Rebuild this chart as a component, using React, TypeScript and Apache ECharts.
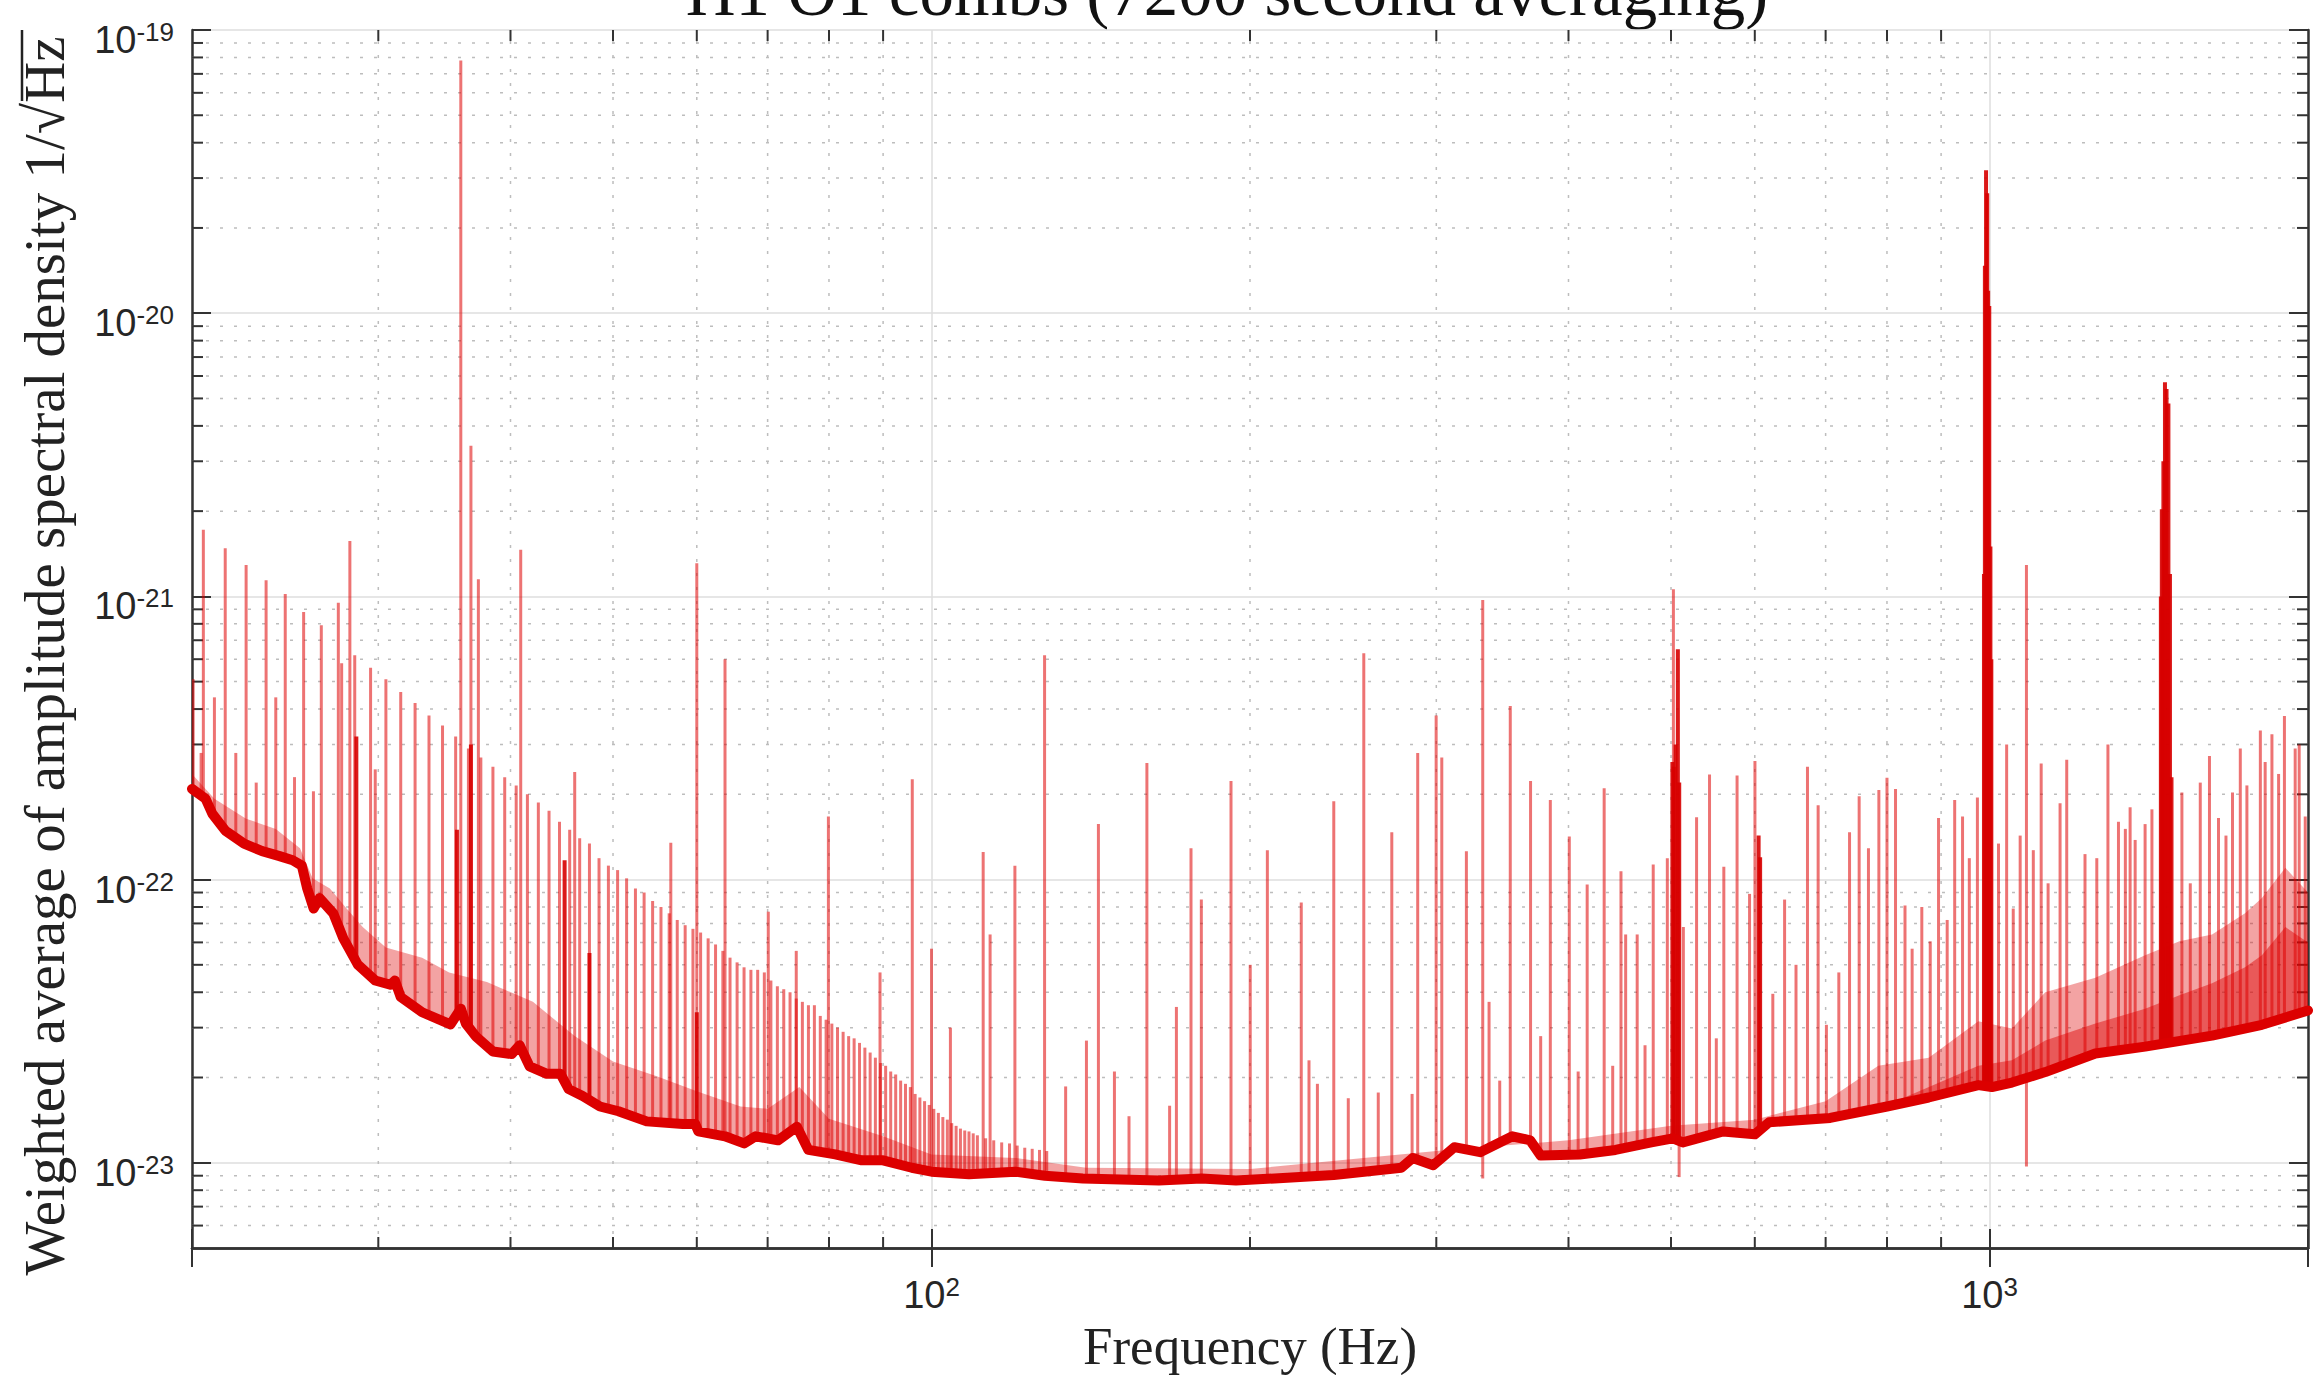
import React, { useEffect, useRef } from 'react';
import * as echarts from 'echarts';

const WIDTH = 2313;
const HEIGHT = 1375;

const TITLE = 'H1 O1 combs (7200 second averaging)';
const X_TITLE = 'Frequency (Hz)';
const Y_TITLE = 'Weighted average of amplitude spectral density 1/\u221AHz';

const X_MIN = 20;
const X_MAX = 2000;
const Y_MIN = 5e-24;
const Y_MAX = 1e-19;

// Labelled decades
const X_DECADES = [100, 1000];
const Y_DECADES = [1e-23, 1e-22, 1e-21, 1e-20, 1e-19];

// Minor grid positions (2..9 x decade)
const MINOR_X = [30, 40, 50, 60, 70, 80, 90, 200, 300, 400, 500, 600, 700, 800, 900];
const MINOR_Y = [
  6e-24, 7e-24, 8e-24, 9e-24,
  2e-23, 3e-23, 4e-23, 5e-23, 6e-23, 7e-23, 8e-23, 9e-23,
  2e-22, 3e-22, 4e-22, 5e-22, 6e-22, 7e-22, 8e-22, 9e-22,
  2e-21, 3e-21, 4e-21, 5e-21, 6e-21, 7e-21, 8e-21, 9e-21,
  2e-20, 3e-20, 4e-20, 5e-20, 6e-20, 7e-20, 8e-20, 9e-20,
];

// Noise floor of the weighted ASD: [Hz, 1/sqrt(Hz)]
const FLOOR: [number, number][] = [
  [20, 2.09e-22], [20.6, 1.93e-22], [20.9, 1.71e-22], [21.5, 1.49e-22], [22.4, 1.34e-22],
  [23.3, 1.26e-22], [24.2, 1.21e-22], [24.9, 1.17e-22], [25.4, 1.12e-22], [25.7, 9.3e-23],
  [26.06, 7.9e-23], [26.4, 8.6e-23], [27.2, 7.6e-23], [27.8, 6.2e-23], [28.7, 5.0e-23],
  [29.8, 4.4e-23], [30.8, 4.25e-23], [31.1, 4.4e-23], [31.5, 3.85e-23], [33.0, 3.4e-23],
  [35.1, 3.08e-23], [35.9, 3.5e-23], [36.3, 3.1e-23], [37.1, 2.79e-23], [38.5, 2.47e-23],
  [40.1, 2.42e-23], [40.8, 2.6e-23], [41.7, 2.19e-23], [43.3, 2.06e-23], [44.6, 2.06e-23],
  [45.4, 1.82e-23], [46.8, 1.72e-23], [48.6, 1.58e-23], [50.6, 1.52e-23], [53.8, 1.4e-23],
  [58.2, 1.37e-23], [59.8, 1.37e-23], [60.2, 1.29e-23], [63.8, 1.24e-23], [66.5, 1.17e-23],
  [68.2, 1.24e-23], [71.6, 1.2e-23], [74.6, 1.34e-23], [76.5, 1.11e-23], [81.1, 1.07e-23],
  [85.9, 1.02e-23], [90, 1.02e-23], [95.8, 9.6e-24], [100, 9.3e-24], [108.5, 9.1e-24],
  [120, 9.3e-24], [128, 9.0e-24], [139, 8.8e-24], [164, 8.65e-24], [180, 8.8e-24],
  [194, 8.65e-24], [211, 8.8e-24], [240, 9.05e-24], [278, 9.6e-24], [285, 1.04e-23],
  [298, 9.8e-24], [312, 1.135e-23], [330, 1.09e-23], [354, 1.24e-23], [368, 1.2e-23],
  [376.5, 1.06e-23], [410, 1.07e-23], [443, 1.11e-23], [479, 1.18e-23], [502, 1.22e-23],
  [513, 1.18e-23], [560, 1.29e-23], [600, 1.26e-23], [619, 1.39e-23], [707, 1.44e-23],
  [800, 1.58e-23], [876, 1.7e-23], [976, 1.88e-23], [1005, 1.85e-23], [1050, 1.92e-23],
  [1129, 2.09e-23], [1259, 2.43e-23], [1403, 2.57e-23], [1623, 2.81e-23], [1809, 3.07e-23],
  [2000, 3.45e-23],
];

// Upper edge of the dense low-level line forest above the floor
const GRASS_TOP: [number, number][] = [
  [20, 2.36e-22], [21, 1.93e-22], [22.5, 1.64e-22], [24, 1.51e-22], [25.3, 1.29e-22],
  [26, 1.01e-22], [27, 9.3e-23], [28, 7.9e-23], [29, 6.8e-23], [30.5, 5.75e-23],
  [33, 5.3e-23], [35, 4.7e-23], [38, 4.35e-23], [42, 3.7e-23], [46, 2.8e-23],
  [50, 2.28e-23], [55, 2.02e-23], [60, 1.79e-23], [66, 1.58e-23], [70, 1.55e-23],
  [75, 1.85e-23], [80, 1.43e-23], [90, 1.24e-23], [100, 1.07e-23], [120, 1.04e-23],
  [140, 9.6e-24], [200, 9.5e-24], [300, 1.1e-23], [400, 1.2e-23], [500, 1.35e-23],
  [600, 1.42e-23], [700, 1.65e-23], [785, 2.2e-23], [876, 2.35e-23], [976, 3.16e-23],
  [1050, 2.98e-23], [1129, 4.0e-23], [1259, 4.5e-23], [1403, 5.4e-23], [1512, 6.05e-23],
  [1623, 6.4e-23], [1744, 7.6e-23], [1809, 8.6e-23], [1904, 1.1e-22], [2000, 9.0e-23],
];

// Upper edge of the densest part of the high-frequency line forest
const GRASS_CORE: [number, number][] = [
  [800, 1.6e-23], [976, 2.2e-23], [1050, 2.3e-23], [1129, 2.7e-23],
  [1259, 3.1e-23], [1403, 3.5e-23], [1512, 3.9e-23], [1623, 4.3e-23], [1744, 4.9e-23],
  [1809, 5.4e-23], [1904, 6.8e-23], [2000, 6.0e-23],
];

// Comb of lines at N + 0.5 Hz: [Hz, peak]
const COMB_HALF_HZ: [number, number][] = [
  [20.5, 1.72e-21], [21.5, 1.48e-21], [22.5, 1.29e-21], [23.5, 1.14e-21], [24.5, 1.02e-21],
  [25.5, 8.8e-22], [26.5, 7.9e-22], [27.5, 9.5e-22], [28.5, 6.2e-22], [29.5, 5.6e-22],
  [30.5, 5.1e-22], [31.5, 4.6e-22], [32.5, 4.2e-22], [33.5, 3.8e-22], [34.5, 3.5e-22],
  [35.5, 3.2e-22], [36.5, 2.9e-22], [37.5, 2.7e-22], [38.5, 2.5e-22], [39.5, 2.3e-22],
  [40.5, 2.15e-22], [41.5, 2.0e-22], [42.5, 1.87e-22], [43.5, 1.75e-22], [44.5, 1.6e-22],
  [45.5, 1.5e-22], [46.5, 1.4e-22], [47.5, 1.34e-22], [48.5, 1.19e-22], [49.5, 1.12e-22],
  [50.5, 1.08e-22], [51.5, 1.01e-22], [52.5, 9.3e-23], [53.5, 9.0e-23], [54.5, 8.4e-23],
  [55.5, 8.0e-23], [56.5, 7.6e-23], [57.5, 7.2e-23], [58.5, 6.9e-23], [59.5, 6.7e-23],
  [60.5, 6.5e-23], [61.5, 6.2e-23], [62.5, 5.9e-23], [63.5, 5.6e-23], [64.5, 5.3e-23],
  [65.5, 5.1e-23], [66.5, 4.9e-23], [67.5, 4.8e-23], [68.5, 4.8e-23], [69.5, 4.7e-23],
  [70.5, 4.4e-23], [71.5, 4.2e-23], [72.5, 4.1e-23], [73.5, 4.0e-23], [74.5, 3.8e-23],
  [75.5, 3.7e-23], [76.5, 3.6e-23], [77.5, 3.6e-23], [78.5, 3.3e-23], [79.5, 3.2e-23],
  [80.5, 3.1e-23], [81.5, 3.0e-23], [82.5, 2.9e-23], [83.5, 2.8e-23], [84.5, 2.75e-23],
  [85.5, 2.65e-23], [86.5, 2.55e-23], [87.5, 2.45e-23], [88.5, 2.35e-23], [89.5, 2.25e-23],
  [90.5, 2.2e-23], [91.5, 2.1e-23], [92.5, 2.05e-23], [93.5, 1.95e-23], [94.5, 1.9e-23],
  [95.5, 1.85e-23], [96.5, 1.75e-23], [97.5, 1.7e-23], [98.5, 1.65e-23], [99.5, 1.6e-23],
  [100.5, 1.55e-23], [101.5, 1.5e-23], [102.5, 1.45e-23], [103.5, 1.42e-23], [104.5, 1.38e-23],
  [105.5, 1.35e-23], [106.5, 1.32e-23], [107.5, 1.3e-23], [108.5, 1.29e-23], [109.5, 1.27e-23],
  [110.5, 1.25e-23], [112.5, 1.22e-23], [114.5, 1.2e-23], [116.5, 1.18e-23], [118.5, 1.17e-23],
  [120.5, 1.15e-23], [122.5, 1.13e-23], [124.5, 1.12e-23], [126.5, 1.11e-23], [128.5, 1.1e-23],
];

// Individual spectral lines: [Hz, peak]
const LINES: [number, number][] = [
  [20.05, 5.1e-22], [20.4, 2.8e-22], [21.0, 4.4e-22], [22.0, 2.8e-22], [23.0, 2.2e-22],
  [24.0, 4.4e-22], [25.0, 2.3e-22], [26.05, 2.05e-22], [27.7, 5.8e-22], [28.2, 1.57e-21],
  [29.8, 2.45e-22], [35.9, 7.8e-20], [36.7, 3.4e-21], [37.3, 1.15e-21], [40.9, 1.46e-21],
  [46.0, 2.4e-22], [56.7, 1.35e-22], [60.0, 1.31e-21], [63.8, 6.0e-22],
  [70.1, 7.7e-23], [74.5, 5.6e-23], [79.9, 1.67e-22], [89.4, 4.7e-23], [95.9, 2.26e-22],
  [100, 5.7e-23], [104.2, 3.0e-23], [111.9, 1.25e-22], [113.6, 6.4e-23], [119.9, 1.12e-22],
  [127.9, 6.2e-22], [133.9, 1.86e-23], [140.1, 2.7e-23], [143.8, 1.57e-22], [148.9, 2.1e-23],
  [153.7, 1.46e-23], [159.8, 2.58e-22], [167.9, 1.59e-23], [170.4, 3.55e-23], [175.9, 1.29e-22],
  [179.9, 8.5e-23], [191.9, 2.23e-22], [200.1, 5.0e-23], [207.7, 1.27e-22], [223.6, 8.3e-23],
  [227.4, 2.3e-23], [231.6, 1.9e-23], [240, 1.89e-22], [247.7, 1.69e-23], [256.2, 6.3e-22],
  [264.4, 1.77e-23], [272.3, 1.47e-22], [284.6, 1.75e-23], [288.1, 2.8e-22], [299.9, 3.8e-22],
  [303.6, 2.7e-22], [320.3, 1.26e-22], [331.9, 9.7e-22], [336.5, 3.7e-23], [344.4, 1.95e-23],
  [352.4, 4.1e-22], [368.3, 2.23e-22], [376.5, 2.8e-23], [384.5, 1.91e-22], [400.7, 1.42e-22],
  [408.5, 2.1e-23], [416.6, 9.6e-23], [432.3, 2.1e-22], [440.4, 2.2e-23], [448.4, 1.07e-22],
  [453, 6.4e-23], [464.5, 6.4e-23], [472.5, 2.6e-23], [481, 1.13e-22], [496, 1.19e-22],
  [502.6, 1.06e-21], [513.6, 6.8e-23], [528.6, 1.66e-22], [543.7, 2.35e-22], [551.8, 2.75e-23],
  [560.9, 1.11e-22], [577.3, 2.33e-22], [593.2, 8.9e-23], [600.2, 2.62e-22], [624, 3.95e-23],
  [640.2, 8.5e-23], [656.3, 5.0e-23], [672.9, 2.5e-22], [688.7, 1.83e-22], [701.2, 3.07e-23],
  [720.4, 4.7e-23], [737.4, 1.47e-22], [753, 1.97e-22], [768.4, 1.29e-22], [786, 2.07e-22],
  [800, 2.29e-22], [815, 2.09e-22], [832, 8.1e-23], [845, 5.7e-23], [863, 8.0e-23],
  [879, 6.05e-23], [895, 1.65e-22], [912, 7.2e-23], [927, 1.91e-22], [943, 1.67e-22],
  [957, 1.19e-22], [974, 1.95e-22], [1019.8, 1.34e-22], [1038, 3.0e-22], [1053, 7.9e-23],
  [1069, 1.43e-22], [1083.7, 1.29e-21], [1100, 1.27e-22], [1119, 2.57e-22], [1136, 9.7e-23],
  [1166, 1.86e-22], [1183, 2.65e-22], [1231, 1.23e-22], [1263, 1.19e-22], [1294, 3.0e-22],
  [1324, 1.6e-22], [1344, 1.51e-22], [1358, 1.8e-22], [1373, 1.38e-22], [1403, 1.57e-22],
  [1424, 1.77e-22], [1520, 2.03e-22], [1548, 9.7e-23], [1582, 2.2e-22], [1614, 2.73e-22],
  [1646, 1.65e-22], [1673, 1.43e-22], [1697, 2.03e-22], [1726, 2.9e-22], [1751, 2.15e-22],
  [1803, 3.36e-22], [1822, 2.6e-22], [1849, 3.26e-22], [1876, 2.36e-22], [1900, 3.78e-22],
  [1945, 2.9e-22], [1962, 3.0e-22], [1988, 1.67e-22],
];

// Densely overlapping lines and violin-mode clusters (drawn darker): [Hz, peak]
const DARK_LINES: [number, number][] = [
  [28.6, 3.2e-22], [35.6, 1.5e-22], [36.7, 3.0e-22], [45.0, 1.17e-22], [47.5, 5.5e-23],
  [60.0, 3.4e-23],
  [501.5, 2.6e-22], [503, 2.5e-22], [505, 3.0e-22], [507.5, 6.5e-22], [509, 2.2e-22],
  [605, 1.43e-22], [607, 1.2e-22],
  [988, 1.2e-21], [990, 1.47e-20], [992.5, 3.2e-20], [995, 2.65e-20], [997, 1.2e-20],
  [999.5, 1.06e-20], [1002, 1.5e-21], [1004, 6.0e-22],
  [1452, 1.0e-21], [1455, 2.03e-21], [1460, 3.0e-21], [1465, 5.7e-21], [1470, 5.4e-21],
  [1476, 4.8e-21], [1481, 1.2e-21], [1486, 2.3e-22],
];

// Lines that dip below the floor: [Hz, minimum]
const DIPS: [number, number][] = [
  [331.9, 8.8e-24], [508.9, 8.9e-24], [1083.7, 9.7e-24],
];

const RED = '#dc0000';
const LINE_RED = 'rgba(222,0,0,0.55)';
const DARK_RED = 'rgba(215,0,0,0.9)';
const AXIS_COLOR = '#333333';
const TEXT_COLOR = '#262626';

// log-log lookup of the floor level, used as the foot of each line
function floorAt(f: number): number {
  const lf = Math.log10(f);
  for (let i = 1; i < FLOOR.length; i++) {
    const [f1, v1] = FLOOR[i];
    if (f <= f1) {
      const [f0, v0] = FLOOR[i - 1];
      const t = (lf - Math.log10(f0)) / (Math.log10(f1) - Math.log10(f0));
      return Math.pow(10, Math.log10(v0) + t * (Math.log10(v1) - Math.log10(v0)));
    }
  }
  return FLOOR[FLOOR.length - 1][1];
}

function decadeLabel(v: number, decades: number[]): string {
  const hit = decades.find((d) => Math.abs(Math.log10(v) - Math.log10(d)) < 1e-6);
  if (hit === undefined) return '';
  return `{b|10}{s|${Math.round(Math.log10(hit))}}`;
}

const tickRich = {
  b: { fontFamily: 'Liberation Sans', fontSize: 38, lineHeight: 40, verticalAlign: 'bottom', color: TEXT_COLOR },
  s: { fontFamily: 'Liberation Sans', fontSize: 26, lineHeight: 9, verticalAlign: 'top', color: TEXT_COLOR },
};

function spikeSeries(data: [number, number][], stroke: string, width: number, z: number) {
  return {
    type: 'custom',
    data,
    z,
    clip: true,
    silent: true,
    encode: { x: 0, y: 1 },
    renderItem: (_p: any, api: any) => {
      const f = api.value(0) as number;
      const peak = api.value(1) as number;
      const a = api.coord([f, floorAt(f)]);
      const b = api.coord([f, peak]);
      return {
        type: 'line',
        shape: { x1: a[0], y1: a[1], x2: b[0], y2: b[1] },
        style: { stroke, lineWidth: width },
      };
    },
  };
}

// filled band between the floor and an upper envelope, over the envelope's span
function bandSeries(top: [number, number][], fill: string, z: number) {
  const f0 = top[0][0];
  const f1 = top[top.length - 1][0];
  const lower: [number, number][] = [
    [f0, floorAt(f0)],
    ...FLOOR.filter(([f]) => f > f0 && f < f1),
    [f1, floorAt(f1)],
  ];
  return {
    type: 'custom',
    data: [[100, 1e-22]],
    z,
    clip: true,
    silent: true,
    encode: { x: 0, y: 1 },
    renderItem: (_p: any, api: any) => {
      const pts = lower.map((p) => api.coord(p)).concat(top.slice().reverse().map((p) => api.coord(p)));
      return { type: 'polygon', shape: { points: pts }, style: { fill } };
    },
  };
}

const MAJOR_TICK = 19;
const MINOR_TICK = 11;

export default function App() {
  const ref = useRef<HTMLDivElement>(null);

  useEffect(() => {
    if (!ref.current) return;
    const chart = echarts.init(ref.current, null, { renderer: 'svg' });

    const axisLine = () => ({ show: true, lineStyle: { color: AXIS_COLOR, width: 2.5 } });
    const axisTick = () => ({ show: true, inside: true, length: MAJOR_TICK, lineStyle: { color: AXIS_COLOR, width: 2 } });

    chart.setOption({
      animation: false,
      backgroundColor: '#ffffff',
      grid: { left: 192, right: 5, top: 30, bottom: 127, containLabel: false, outerBoundsMode: 'none' },
      xAxis: [
        {
          type: 'log', logBase: 10, min: X_MIN, max: X_MAX,
          position: 'bottom',
          axisLine: axisLine(),
          axisTick: axisTick(),
          axisLabel: {
            formatter: (v: number) => decadeLabel(v, X_DECADES),
            rich: tickRich,
            margin: 26,
          },
          splitLine: { show: true, lineStyle: { color: '#dedede', width: 1.5 } },
        },
        {
          type: 'log', logBase: 10, min: X_MIN, max: X_MAX,
          position: 'top',
          axisLine: axisLine(),
          axisTick: axisTick(),
          axisLabel: { show: false },
          splitLine: { show: false },
        },
      ],
      yAxis: [
        {
          type: 'log', logBase: 10, min: Y_MIN, max: Y_MAX,
          position: 'left',
          axisLine: axisLine(),
          axisTick: axisTick(),
          axisLabel: {
            formatter: (v: number) => decadeLabel(v, Y_DECADES),
            rich: tickRich,
            margin: 18,
            padding: [18, 0, 0, 0],
          },
          splitLine: { show: true, lineStyle: { color: '#dedede', width: 1.5 } },
        },
        {
          type: 'log', logBase: 10, min: Y_MIN, max: Y_MAX,
          position: 'right',
          axisLine: axisLine(),
          axisTick: axisTick(),
          axisLabel: { show: false },
          splitLine: { show: false },
        },
      ],
      series: [
        // minor vertical grid + ticks
        {
          type: 'custom',
          data: MINOR_X.map((f) => [f, 1e-21]),
          z: 1,
          silent: true,
          encode: { x: 0, y: 1 },
          renderItem: (_p: any, api: any) => {
            const f = api.value(0) as number;
            const lo = api.coord([f, Y_MIN]);
            const hi = api.coord([f, Y_MAX]);
            return {
              type: 'group',
              children: [
                { type: 'line', shape: { x1: lo[0], y1: lo[1], x2: hi[0], y2: hi[1] }, style: { stroke: '#bdbdbd', lineWidth: 1.5, lineDash: [3, 11] } },
                { type: 'line', shape: { x1: lo[0], y1: lo[1], x2: lo[0], y2: lo[1] - MINOR_TICK }, style: { stroke: AXIS_COLOR, lineWidth: 2 } },
                { type: 'line', shape: { x1: hi[0], y1: hi[1], x2: hi[0], y2: hi[1] + MINOR_TICK }, style: { stroke: AXIS_COLOR, lineWidth: 2 } },
              ],
            };
          },
        },
        // minor horizontal grid + ticks
        {
          type: 'custom',
          data: MINOR_Y.map((v) => [100, v]),
          z: 1,
          silent: true,
          encode: { x: 0, y: 1 },
          renderItem: (_p: any, api: any) => {
            const v = api.value(1) as number;
            const l = api.coord([X_MIN, v]);
            const r = api.coord([X_MAX, v]);
            return {
              type: 'group',
              children: [
                { type: 'line', shape: { x1: l[0], y1: l[1], x2: r[0], y2: r[1] }, style: { stroke: '#bdbdbd', lineWidth: 1.5, lineDash: [3, 11] } },
                { type: 'line', shape: { x1: l[0], y1: l[1], x2: l[0] + MINOR_TICK, y2: l[1] }, style: { stroke: AXIS_COLOR, lineWidth: 2 } },
                { type: 'line', shape: { x1: r[0], y1: r[1], x2: r[0] - MINOR_TICK, y2: r[1] }, style: { stroke: AXIS_COLOR, lineWidth: 2 } },
              ],
            };
          },
        },
        bandSeries(GRASS_TOP, 'rgba(221,0,0,0.36)', 2),
        bandSeries(GRASS_CORE, 'rgba(221,0,0,0.45)', 2),
        spikeSeries(COMB_HALF_HZ, LINE_RED, 3, 3),
        spikeSeries(LINES, LINE_RED, 3, 3),
        spikeSeries(DIPS, LINE_RED, 3, 3),
        spikeSeries(DARK_LINES, DARK_RED, 4, 4),
        {
          type: 'line',
          data: FLOOR,
          z: 5,
          silent: true,
          symbol: 'none',
          showSymbol: false,
          clip: true,
          lineStyle: { color: RED, width: 10, join: 'round', cap: 'round' },
        },
      ],
      graphic: [
        {
          type: 'text',
          x: 1227,
          y: -8,
          silent: true,
          style: { text: TITLE, font: '69px "Liberation Serif"', fill: '#111', align: 'center', verticalAlign: 'middle' },
        },
        {
          type: 'text',
          x: 1250,
          y: 1346,
          silent: true,
          style: { text: X_TITLE, font: '53px "Liberation Serif"', fill: '#222', align: 'center', verticalAlign: 'middle' },
        },
        {
          type: 'text',
          x: 44,
          y: 656,
          rotation: Math.PI / 2,
          silent: true,
          style: { text: Y_TITLE, font: '57px "Liberation Serif"', fill: '#222', align: 'center', verticalAlign: 'middle' },
        },
        // vinculum of the square root over "Hz"
        {
          type: 'line',
          silent: true,
          shape: { x1: 22, y1: 30, x2: 22, y2: 101 },
          style: { stroke: '#222', lineWidth: 2.5 },
        },
      ],
    });

    return () => chart.dispose();
  }, []);

  return (
    <div
      ref={ref}
      style={{ position: 'absolute', left: 0, top: 0, width: WIDTH, height: HEIGHT, background: '#fff' }}
    />
  );
}
